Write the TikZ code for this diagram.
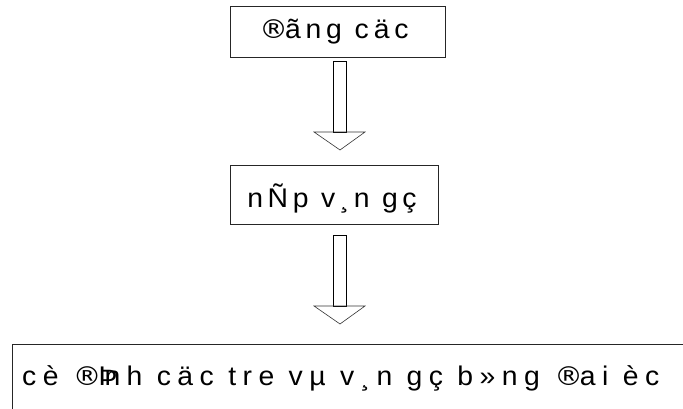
\documentclass[tikz,border=0pt]{standalone}
\usepackage{fontspec}
\setmainfont{Liberation Sans}[FakeStretch=1.05]
\newfontfamily\regfont{DejaVu Sans}[FakeStretch=1.1]
\newcommand{\regsym}{{\regfont\fontsize{26}{30}\selectfont ®}}
\usetikzlibrary{calc}
\begin{document}
\begin{tikzpicture}[x=1pt,y=-1pt,
  box/.style={draw=black!85,line width=1.1pt,inner sep=0pt,anchor=north west},
  lbl/.style={inner sep=0pt,font=\fontsize{27}{31}\selectfont},
  shaft/.style={draw=black,line width=0.8pt},
  head/.style={draw=black!80,line width=0.6pt}]
\useasboundingbox (0,0) rectangle (683,409);
\clip (0,0) rectangle (683,409);
% boxes
\node[box,minimum width=215pt,minimum height=51pt] (b1) at (230,6) {};
\node[box,minimum width=208pt,minimum height=59pt] (b2) at (230,165) {};
\node[box,minimum width=700pt,minimum height=80pt] (b3) at (12,344) {};
% labels
\node[lbl] (t1) at (334,32) {\addfontfeature{LetterSpace=18}\regsym\kern-3pt ãng cäc};
\node[lbl] (t2) at (332,199) {\addfontfeature{LetterSpace=17}nÑp v¸n gç};
\node[lbl,anchor=west] (t3) at (22,378) {\addfontfeature{LetterSpace=24}cè \regsym\kern-3pt Þ\kern-13pt nh cäc tre vµ v¸n gç b»ng \regsym\kern-3pt ai èc};
% block arrows
\coordinate (a1) at (340,61);
\coordinate (a2) at (340,235);
\foreach \a/\b in {a1/71,a2/71}{
  \draw[shaft] ($(\a)+(-6.5,0)$) rectangle ($(\a)+(6.5,\b)$);
  \draw[head] ($(\a)+(-26,\b)$) -- ($(\a)+(25,\b)$) -- ($(\a)+(0,\b+18)$) -- cycle;
}
\end{tikzpicture}
\end{document}
